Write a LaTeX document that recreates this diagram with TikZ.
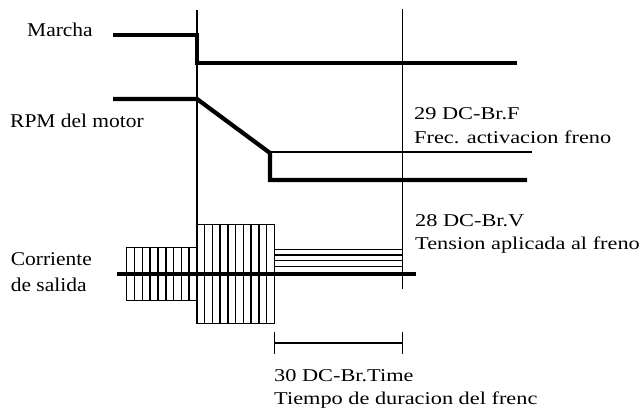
\documentclass[tikz,border=0pt]{standalone}
\usepackage{fontspec}
\setmainfont[FakeStretch=1.24]{Liberation Serif}
\newfontfamily\leftlblfont[FakeStretch=1.1]{Liberation Serif}
\begin{document}
\begin{tikzpicture}[x=1pt,y=-1pt,
  thickline/.style={line width=4.2pt,line join=miter},
  thinline/.style={line width=1.5pt},
  lbl/.style={anchor=base west,inner sep=0pt,font=\fontsize{18}{23}\selectfont},
  leftlbl/.style={anchor=base west,inner sep=0pt,font=\leftlblfont\fontsize{19.5}{24}\selectfont}]
\useasboundingbox (0,0) rectangle (643,412);
% key coordinates
\coordinate (v1top) at (197,10);
\coordinate (v1bot) at (197,224.3);
\coordinate (v2top) at (402.7,9);
\coordinate (v2bot) at (402.7,289);
% vertical reference lines
\draw[thinline] (v1top) -- (v1bot);
\draw[thinline] (v2top) -- (v2bot);
% Marcha signal
\coordinate (m0) at (113,35);
\coordinate (m1) at (197,35);
\coordinate (m2) at (197,63);
\coordinate (m3) at (517,63);
\draw[thickline] (m0) -- (m1) -- (m2) -- (m3);
% RPM signal
\coordinate (r0) at (113,99);
\coordinate (r1) at (197,99);
\coordinate (r2) at (270,153);
\coordinate (r3) at (270,180);
\coordinate (r4) at (527,180);
\coordinate (f0) at (270,152);
\coordinate (f1) at (532,152);
\draw[thinline] (f0) -- (f1);
\draw[thickline] (r0) -- (r1) -- (r2) -- (r3) -- (r4);
% output current: left block
\draw[thinline] (126.7,247.5) rectangle (197,300.5);
\foreach \i in {1,...,8} \draw[thinline] ({126.7+\i*70.3/9},247.5) -- ({126.7+\i*70.3/9},300.5);
% middle block
\draw[thinline] (197,224.3) rectangle (274.3,323.3);
\foreach \i in {1,...,9} \draw[thinline] ({197+\i*77.3/10},224.3) -- ({197+\i*77.3/10},323.3);
% horizontal lines block
\foreach \y in {249.3,255,260.7,266.7} \draw[thinline] (274.3,\y) -- (402.7,\y);
% axis
\coordinate (a0) at (116.7,274.3);
\coordinate (a1) at (416,274.3);
\draw[thickline] (a0) -- (a1);
% dimension
\coordinate (d0) at (274.3,343);
\coordinate (d1) at (402.3,343);
\draw[thinline] (d0) -- (d1);
\draw[thinline] (274.3,331.7) -- (274.3,354);
\draw[thinline] (402.3,331.7) -- (402.3,354);
% labels
\node[leftlbl] (marcha) at (27,37) {Marcha};
\node[leftlbl] (rpm) at (10,128) {RPM del motor};
\node[leftlbl] (corr1) at (10.7,265) {Corriente};
\node[leftlbl] (corr2) at (10.7,291.7) {de salida};
\node[lbl] (p29a) at (414,120) {29 DC-Br.F};
\node[lbl] (p29b) at (414,143) {Frec. activacion freno};
\node[lbl] (p28a) at (415,226.7) {28 DC-Br.V};
\node[lbl] (p28b) at (415,249.5) {Tension aplicada al freno};
\node[lbl] (p30a) at (274,381) {30 DC-Br.Time};
\node[lbl] (p30b) at (274,404) {Tiempo de duracion del frenc};
\end{tikzpicture}
\end{document}
